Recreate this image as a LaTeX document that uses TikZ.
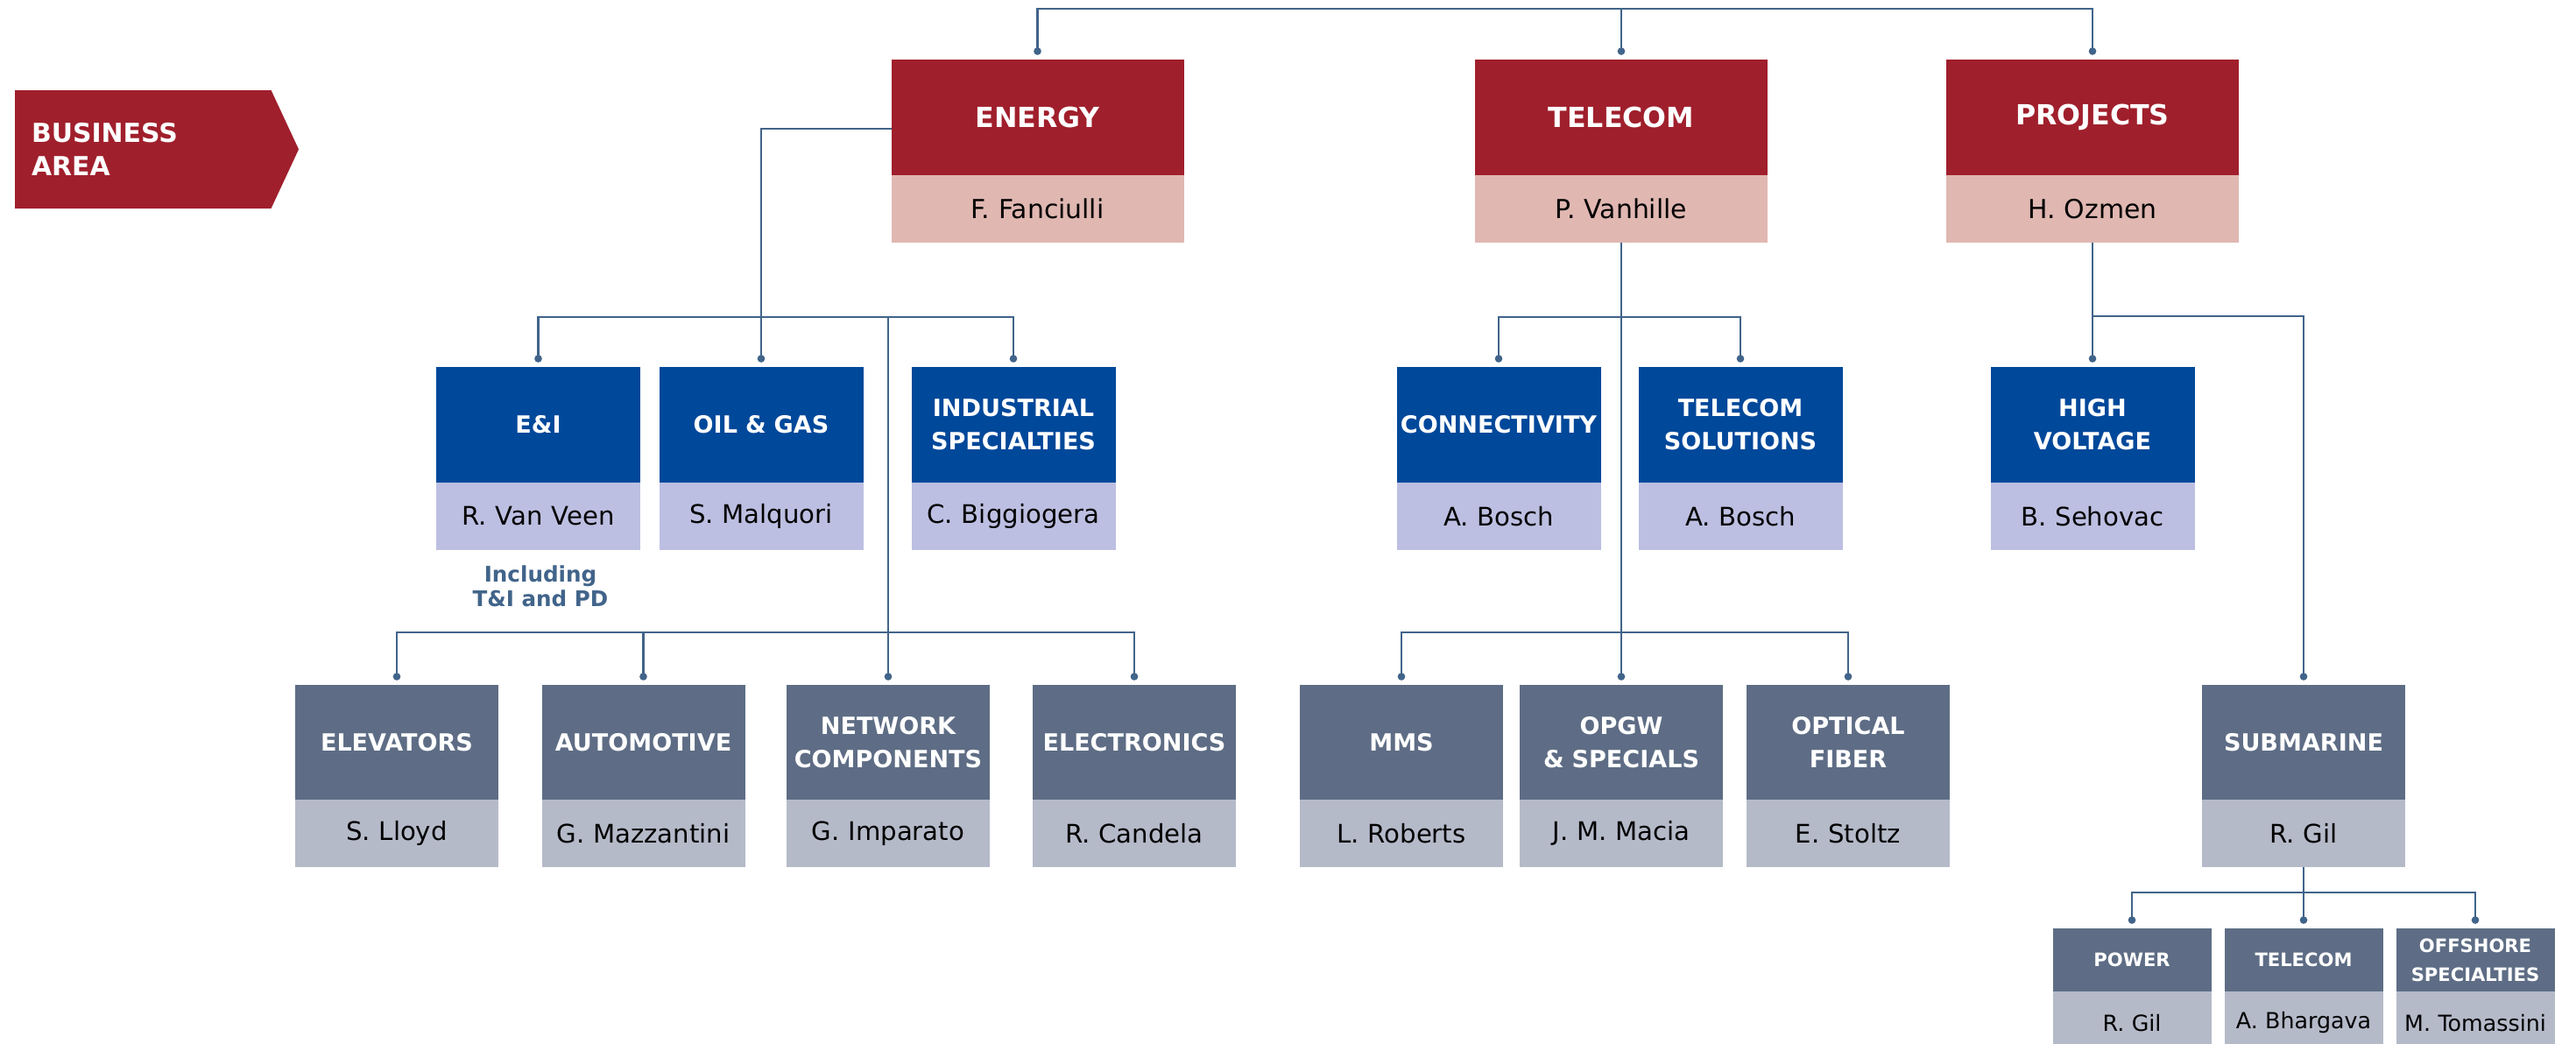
\documentclass[tikz,border=0pt]{standalone}
\usepackage{fontspec}
\setmainfont{DejaVu Sans}
\usetikzlibrary{positioning,shapes.symbols,arrows.meta}

\definecolor{bizred}{HTML}{A01F2C}
\definecolor{bizpink}{HTML}{E0B7B1}
\definecolor{unitblue}{HTML}{00489A}
\definecolor{unitlav}{HTML}{BCBFE1}
\definecolor{lineslate}{HTML}{5E6D85}
\definecolor{linegrey}{HTML}{B5BAC9}
\definecolor{linkblue}{HTML}{41648A}

\begin{document}
\begin{tikzpicture}[outer sep=0pt,
	box/.style = {inner sep=0pt, align=center},
	areahd/.style = {box, fill=bizred, text=white, text width=3.34cm, minimum height=1.32cm, font=\bfseries\fontsize{9}{11}\selectfont},
	areanm/.style = {box, fill=bizpink, text width=3.34cm, minimum height=0.77cm, font=\fontsize{8.5}{10}\selectfont},
	unithd/.style = {box, fill=unitblue, text=white, text width=2.33cm, minimum height=1.32cm, font=\bfseries\fontsize{7.7}{10.8}\selectfont},
	unitnm/.style = {box, fill=unitlav, text width=2.33cm, minimum height=0.77cm, font=\fontsize{8.3}{10}\selectfont},
	linehd/.style = {box, fill=lineslate, text=white, text width=2.32cm, minimum height=1.31cm, font=\bfseries\fontsize{7.7}{10.8}\selectfont},
	linenm/.style = {box, fill=linegrey, text width=2.32cm, minimum height=0.77cm, font=\fontsize{8.3}{10}\selectfont},
	smallhd/.style = {box, fill=lineslate, text=white, text width=1.81cm, minimum height=0.72cm, font=\bfseries\fontsize{6}{9.4}\selectfont},
	smallnm/.style = {box, fill=linegrey, text width=1.81cm, minimum height=0.72cm, font=\fontsize{7.2}{9}\selectfont},
	biz/.style = {signal, signal to=east, signal pointer angle=130, fill=bizred, text=white, inner sep=0pt, text width=2.545cm, align=left, minimum width=3.24cm, minimum height=1.35cm, font=\bfseries\fontsize{8.5}{10.8}\selectfont},
	note/.style = {inner sep=0pt, align=center, text=linkblue, font=\bfseries\fontsize{7}{8}\selectfont},
	link/.style = {draw=linkblue, line width=0.75pt, -{Circle[length=2.4pt]}, shorten >=1.5pt}]
	\useasboundingbox (0,0) rectangle (29.41,-11.92);

	\node[biz] (ba) at (1.633,-1.705) {BUSINESS\\AREA};

	\node[areahd] (en) at (11.845,-1.34) {ENERGY};
	\node[areanm] (enN) [below=0pt of en] {F. Fanciulli};
	\node[areahd] (tc) at (18.51,-1.34) {TELECOM};
	\node[areanm] (tcN) [below=0pt of tc] {P. Vanhille};
	\node[areahd] (pr) at (23.89,-1.34) {PROJECTS};
	\node[areanm] (prN) [below=0pt of pr] {H. Ozmen};

	\node[unithd] (ei) at (6.145,-4.85) {E\&I};
	\node[unitnm] (eiN) [below=0pt of ei] {R. Van Veen};
	\node[unithd] (og) at (8.69,-4.85) {OIL \& GAS};
	\node[unitnm] (ogN) [below=0pt of og] {S. Malquori};
	\node[unithd] (is) at (11.57,-4.85) {INDUSTRIAL\\SPECIALTIES};
	\node[unitnm] (isN) [below=0pt of is] {C. Biggiogera};
	\node[unithd] (cn) at (17.11,-4.85) {CONNECTIVITY};
	\node[unitnm] (cnN) [below=0pt of cn] {A. Bosch};
	\node[unithd] (ts) at (19.87,-4.85) {TELECOM\\SOLUTIONS};
	\node[unitnm] (tsN) [below=0pt of ts] {A. Bosch};
	\node[unithd] (hv) at (23.89,-4.85) {HIGH\\VOLTAGE};
	\node[unitnm] (hvN) [below=0pt of hv] {B. Sehovac};
	\node[note] (incl) at (6.17,-6.69) {Including\\T\&I and PD};

	\node[linehd] (el) at (4.53,-8.475) {ELEVATORS};
	\node[linenm] (elN) [below=0pt of el] {S. Lloyd};
	\node[linehd] (au) at (7.345,-8.475) {AUTOMOTIVE};
	\node[linenm] (auN) [below=0pt of au] {G. Mazzantini};
	\node[linehd] (nc) at (10.14,-8.475) {NETWORK\\COMPONENTS};
	\node[linenm] (ncN) [below=0pt of nc] {G. Imparato};
	\node[linehd] (ec) at (12.95,-8.475) {ELECTRONICS};
	\node[linenm] (ecN) [below=0pt of ec] {R. Candela};
	\node[linehd] (mm) at (16.0,-8.475) {MMS};
	\node[linenm] (mmN) [below=0pt of mm] {L. Roberts};
	\node[linehd] (op) at (18.51,-8.475) {OPGW\\\& SPECIALS};
	\node[linenm] (opN) [below=0pt of op] {J. M. Macia};
	\node[linehd] (fib) at (21.10,-8.475) {OPTICAL\\FIBER};
	\node[linenm] (fibN) [below=0pt of fib] {E. Stoltz};
	\node[linehd] (sm) at (26.30,-8.475) {SUBMARINE};
	\node[linenm] (smN) [below=0pt of sm] {R. Gil};

	\node[smallhd] (pw) at (24.34,-10.96) {POWER};
	\node[smallnm] (pwN) [below=0pt of pw] {R. Gil};
	\node[smallhd] (t4) at (26.30,-10.96) {TELECOM};
	\node[smallnm] (t4N) [below=0pt of t4] {A. Bhargava};
	\node[smallhd] (os) at (28.26,-10.96) {OFFSHORE\\SPECIALTIES};
	\node[smallnm] (osN) [below=0pt of os] {M. Tomassini};

	\coordinate (tbus) at ([yshift=5.8mm]tc.north);
	\draw[link] (tbus) -| (en.north);
	\draw[link] (tbus) -- (tc.north);
	\draw[link] (tbus) -| (pr.north);

	\draw[link] ([yshift=-1.3mm]en.west) -| (og.north);
	\coordinate (ebus) at (og.north |- 0,-3.62);
	\draw[link] (ebus) -| (ei.north);
	\draw[link] (ebus) -| (is.north);
	\draw[link] (nc.north |- ebus) -- (nc.north);
	\coordinate (ebus3) at (nc.north |- 0,-7.22);
	\draw[link] (ebus3) -| (el.north);
	\draw[link] (ebus3) -| (au.north);
	\draw[link] (ebus3) -| (ec.north);

	\draw[link] (tcN.south) -- (op.north);
	\coordinate (tbus2) at (tcN.south |- 0,-3.62);
	\draw[link] (tbus2) -| (cn.north);
	\draw[link] (tbus2) -| (ts.north);
	\coordinate (tbus3) at (tcN.south |- 0,-7.22);
	\draw[link] (tbus3) -| (mm.north);
	\draw[link] (tbus3) -| (fib.north);

	\draw[link] (prN.south) -- (hv.north);
	\coordinate (pbus) at (prN.south |- 0,-3.61);
	\draw[link] (pbus) -| (sm.north);

	\draw[link] (smN.south) -- (t4.north);
	\coordinate (sbus) at (smN.south |- 0,-10.19);
	\draw[link] (sbus) -| (pw.north);
	\draw[link] (sbus) -| (os.north);
\end{tikzpicture}
\end{document}
